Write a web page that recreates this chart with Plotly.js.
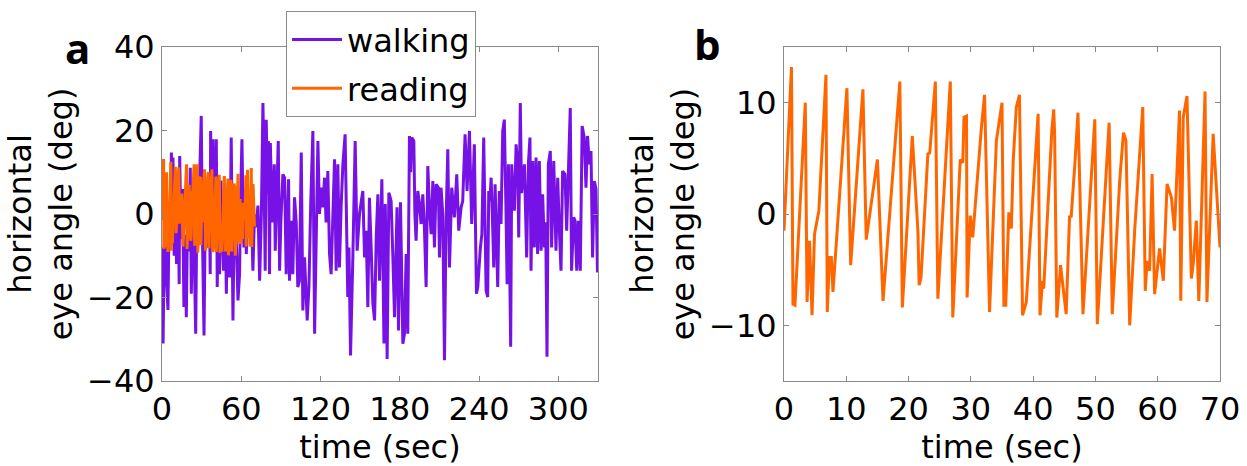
<!DOCTYPE html>
<html>
<head>
<meta charset="utf-8">
<script src="https://cdn.plot.ly/plotly-3.0.1.min.js"></script>
<style>html,body{margin:0;padding:0;background:#fff;}#chart{width:1247px;height:466px;}</style>
</head>
<body>
<div id="chart"></div>
<script>
// ---- Data ----
const walkingTime = [0,0.8,1.6,2.5,3.3,4.5,5.5,6.3,7.1,7.7,8.3,9.2,10.2,11.0,12.0,13.0,13.4,14.4,15.5,16.6,17.4,18.4,19.5,20.4,21.4,22.2,23.2,24.3,25.5,26.5,27.6,28.6,29.7,30.6,31.8,32.8,33.8,34.8,35.7,36.5,36.8,37.6,38.6,39.6,40.4,41.1,41.8,42.7,43.6,44.6,45.6,46.6,47.6,48.7,49.9,51.2,52.4,53.7,54.8,56.2,57.5,58.7,59.6,60.5,61.2,62.0,63.0,63.8,65.0,66.2,67.5,68.8,70.0,71.3,72.6,73.9,75.2,76.4,77.2,78.1,78.9,79.8,80.5,81.4,82,83.5,85,85.7,86.8,88,89,90,91.5,92.8,94,95.8,96.5,97.8,99,100.3,101.6,102.8,104,105.4,106.6,107.9,109.9,111.2,112.6,114.2,115.5,116.8,118,119.2,120.5,121.8,123,124.2,125.5,126.8,128,130.6,131.8,133.1,134.3,135.6,136.9,138.6,140.6,141.5,142.7,144.5,146.2,147.7,149.5,150.8,152,153.3,154.5,155.8,157,158.3,159.6,160.9,162.2,163.4,164.6,166.4,168,169,170.4,171.7,173.4,174.7,176,177.9,179,180.5,182.3,183.5,184.8,186,187.3,188.2,189,190.6,191.4,192.3,193.6,194.9,196.1,197.4,198.6,199.9,201.2,202.4,203.7,205,206.2,207.5,209.2,210,211.2,212.5,213.8,215,216.3,217.6,219.3,221.3,223.1,224.6,226.4,227.6,229.4,230.9,232.7,234.4,236.4,238,239,241,242.1,243.5,245.3,246.5,247.3,248.2,249.1,250.3,251.1,252.1,253.1,254.1,255.3,256.6,257.9,259.1,260.4,261.2,262.2,263.9,264.7,265.7,266.7,268,269.2,270,271.2,272.1,273,274.3,276,277.3,278.5,279.3,280.6,281.8,283.1,284.3,285.6,286.9,288.1,289.4,290.4,291.4,292.4,293.9,294.9,296.5,298.2,299.5,300.7,302,303.2,305,306.3,307.5,309,310,311.6,312.6,313.9,315.1,316.6,318,319.6,320.9,322.1,323.4,324.7,325.9,327.2,328.5,329.6];
const walkingAngle = [-8,-31,-10,8,-15,-23,3,-5,14.7,2,13.5,-10,5,-12,8,-16.8,13.9,-6,6,-22.3,-5,-24.7,3,-9,11.1,-19.1,4,-8,-28.7,5,-3,9,23.5,-5,-29.1,2,-6,-8,7,-14.4,19.9,0,17.9,-6,6,17.9,-17.5,5,-14.4,8,-4,-13.6,7,-19.1,4,-15.2,18.3,-25.5,2,-6,-20.7,-14.4,5,17.9,4,-8,6,-9.6,3,-5,4,-13.6,0,-3.2,2,-16.0,0,26.6,10,-13.6,22.6,5,17.5,-14.4,17,-2,11.9,-8.8,4,17.5,-13.6,-1.6,9.5,8.7,-14.4,8.3,-16,-1.6,-14.4,4,-2.0,-17.5,-16,14.7,-23.1,-10.4,-25.5,-17.5,3,19.9,-28.7,2,17.5,0,6.3,1.6,8.7,-2,10.3,-9.6,-14.4,13.1,-13.6,11.9,-12.8,2,11.9,19.1,-19.9,-8,-33.9,-9.6,17.5,-8.8,0,3,5.5,-10.4,-4,-22.3,3.9,-8,-21.5,-25.5,-5,4.7,-16,8.3,-31,2.4,-34.7,5.1,3.1,-10,-24.7,1.6,-27.9,2.8,-31.1,-28.7,-9.6,-28.7,18.7,10,18.3,17.5,0,-6.4,5.5,2.4,-2.4,4.7,-3,-17.5,11.5,1.6,-4.8,7.9,-8,7.1,6.3,-10.4,6.3,0,-35,-2,15.5,-12.8,6.3,-0.8,9.5,-4,1.6,3.1,19.1,5.5,19.9,-2.4,16.7,-19.1,-17.5,-8,-4.8,18.3,-18.3,-19.9,5.5,3.1,8.7,-3.2,-12.8,7.1,-5,-17.5,5.5,-2.4,19.9,22.6,0,-16.8,11.9,-31.8,11.9,4,0.8,16.7,11.9,-5.6,26.6,5,7.9,11.9,-10.4,11.9,18.3,-13.6,12.7,-8,13.5,-9.6,12.7,-8.8,4.7,-8,-2,-34.2,11.9,15.1,-8,12.7,-8.8,8.7,-3.2,-13.6,10.3,9.5,-4,8.7,25.4,-13.6,-0.8,-1.6,-13.6,-1.6,-13.6,21.1,18.3,6.3,18.7,11.9,15.1,-10.4,7.9,6,-14];

const readingTime = [0,0.5,1.2,1.44,1.76,3.42,3.7,4.1,4.5,4.9,5.6,6.74,6.95,7.3,7.6,7.86,10.1,10.7,12.67,13.2,15.0,15.9,18.6,19.0,20.6,21.5,21.7,22.0,23.1,23.4,24.3,24.7,26.7,27.1,28.3,28.7,28.9,29.3,29.4,29.9,30.3,31.7,32.2,33.0,34.1,35.0,35.3,35.6,36.1,36.5,36.8,37.3,37.8,38.3,38.9,40.8,41.1,41.5,41.7,43.0,43.3,43.45,43.8,44.4,45.3,45.85,46.1,46.7,47.2,48.0,49.9,50.3,51.2,52.2,52.7,53.9,54.5,54.9,55.5,56.3,57.6,58.0,58.3,58.7,59.1,59.5,60.3,60.9,61.5,62.2,62.7,63.5,63.7,64.1,64.7,65.4,65.7,66.2,66.6,67.6,67.9,68.9,70.0];
const readingAngle = [-1.5,5,13.2,-8.1,-8.2,10,-7.9,-2.4,-9.1,-1.8,0.3,12.5,-8.8,-3.9,-3.9,-7.0,11.3,-4.6,11.2,-2.3,4.9,-7.8,11.9,-8.4,7.0,-1.5,-6.4,-5.7,5.4,5.5,11.9,-7.6,11.9,-9.3,4.9,4.6,8.7,8.8,-7.5,-0.15,-2.1,7.8,10.7,-8.8,6.6,10.0,-8.2,-8.2,0.15,-1.3,4.8,9.6,10.7,-9.1,-7.9,9.0,-9.1,-6.0,-6.7,7.5,9.4,7.2,-9.3,-4.6,-9.0,-0.15,-0.3,4.5,9.1,-9.0,8.5,-9.9,-1.2,8.2,-9.0,3.0,7.3,6.6,-10.0,-1.5,9.6,-6.9,-4.2,-5.1,3.6,-7.2,-3.1,-6.0,2.7,1.5,-1.5,9.3,-7.8,8.7,10.6,-5.8,-4.5,-0.6,-7.8,11.0,-7.9,7.2,-3.0];

const seriesNames = ['walking', 'reading'];
const xTicksA = [0, 60, 120, 180, 240, 300];
const yTicksA = [-40, -20, 0, 20, 40];
const xTicksB = [0, 10, 20, 30, 40, 50, 60, 70];
const yTicksB = [-10, 0, 10];
const panelLabels = ['a', 'b'];
const xTitle = 'time (sec)';
const yTitle = 'horizontal<br>eye angle (deg)';

// ---- Styling ----
const PURPLE = '#7612E6';
const ORANGE = '#FF6600';
const FONT = 'DejaVu Sans, Open Sans, sans-serif';
const FS = 32;
const LABELFONT = 'Open Sans, DejaVu Sans, sans-serif';

const traces = [
  {x: walkingTime, y: walkingAngle, type: 'scatter', mode: 'lines', name: seriesNames[0],
   legendgroup: 'w', line: {color: PURPLE, width: 3}, xaxis: 'x', yaxis: 'y'},
  {x: readingTime, y: readingAngle, type: 'scatter', mode: 'lines', name: seriesNames[1],
   legendgroup: 'r', line: {color: ORANGE, width: 3}, xaxis: 'x', yaxis: 'y'},
  {x: readingTime, y: readingAngle, type: 'scatter', mode: 'lines', name: seriesNames[1],
   legendgroup: 'r', line: {color: ORANGE, width: 3}, xaxis: 'x2', yaxis: 'y2', showlegend: false}
];

const axisCommon = {
  showline: true, linecolor: '#8a8a8a', linewidth: 1, mirror: 'ticks',
  ticks: 'inside', ticklen: 5, tickcolor: '#8a8a8a', tickwidth: 1,
  showgrid: false, zeroline: false,
  tickfont: {family: FONT, size: FS, color: '#000'},
  automargin: false
};
const titleFont = {family: FONT, size: FS, color: '#000'};

const layout = {
  width: 1247, height: 466,
  margin: {l: 162, r: 27, t: 46, b: 85, pad: 0},
  paper_bgcolor: '#fff', plot_bgcolor: '#fff',
  font: {family: FONT, size: FS, color: '#000'},
  showlegend: true,
  legend: {x: 0.1172, y: 1.1036, xanchor: 'left', yanchor: 'top',
           bgcolor: '#fff', bordercolor: '#8a8a8a', borderwidth: 1,
           traceorder: 'grouped', tracegroupgap: 4,
           font: {family: FONT, size: FS, color: '#000'}, itemwidth: 50},
  xaxis: Object.assign({}, axisCommon, {domain: [0, 0.4121], range: [0, 330],
           tickmode: 'array', tickvals: xTicksA, anchor: 'y',
           title: {text: xTitle, font: titleFont}}),
  yaxis: Object.assign({}, axisCommon, {domain: [0, 1], range: [-40, 40],
           tickmode: 'array', tickvals: yTicksA, anchor: 'x',
           title: {text: yTitle, font: titleFont, standoff: 4}}),
  xaxis2: Object.assign({}, axisCommon, {domain: [0.5879, 1], range: [0, 70],
           tickmode: 'array', tickvals: xTicksB, anchor: 'y2',
           title: {text: xTitle, font: titleFont}}),
  yaxis2: Object.assign({}, axisCommon, {domain: [0, 1], range: [-15, 15],
           tickmode: 'array', tickvals: yTicksB, anchor: 'x2',
           title: {text: yTitle, font: titleFont, standoff: 4}}),
  annotations: [
    {text: '<b>' + panelLabels[0] + '</b>', xref: 'paper', yref: 'paper', x: -0.0803, y: 1.0, xanchor: 'center', yanchor: 'middle',
     showarrow: false, font: {family: LABELFONT, size: 42, color: '#000'}},
    {text: '<b>' + panelLabels[1] + '</b>', xref: 'paper', yref: 'paper', x: 0.516, y: 1.01, xanchor: 'center', yanchor: 'middle',
     showarrow: false, font: {family: LABELFONT, size: 42, color: '#000'}}
  ]
};

Plotly.newPlot('chart', traces, layout, {staticPlot: true, displayModeBar: false});
</script>
</body>
</html>
